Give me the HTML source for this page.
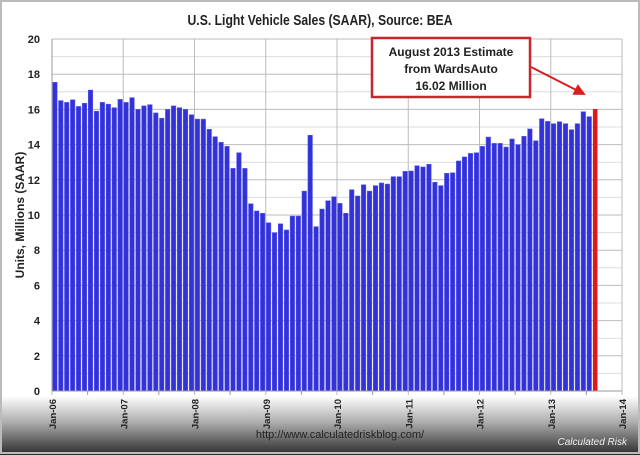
<!DOCTYPE html>
<html><head><meta charset="utf-8"><style>
html,body{margin:0;padding:0;background:#fff}
svg{display:block;font-family:"Liberation Sans",sans-serif}
</style></head><body>
<svg id="chart" width="640" height="455">
<defs>
<linearGradient id="bg" x1="0" y1="0" x2="0" y2="1">
<stop offset="0" stop-color="#fff"/><stop offset="0.87" stop-color="#fff"/><stop offset="0.93" stop-color="#aaa"/><stop offset="1" stop-color="#2a2a2a"/>
</linearGradient>
<marker id="ah" markerWidth="6" markerHeight="6" refX="5" refY="3" orient="auto"><path d="M0,0 L6,3 L0,6 z" fill="#d42020"/></marker>
</defs>
<rect x="0" y="0" width="640" height="455" fill="url(#bg)"/>
<rect x="1" y="1" width="638" height="452" fill="none" stroke="#bbb" stroke-width="2"/>
<text x="320" y="25" text-anchor="middle" font-size="15" font-weight="bold" fill="#222" textLength="265" lengthAdjust="spacingAndGlyphs">U.S. Light Vehicle Sales (SAAR), Source: BEA</text>
<g id="grid"></g>
<g id="bars"></g>
<g id="axes"></g>
<text transform="translate(24,215) rotate(-90)" text-anchor="middle" font-size="12" font-weight="bold" fill="#222">Units, Millions (SAAR)</text>
<text x="340" y="438" text-anchor="middle" font-size="11" fill="#222">http://www.calculatedriskblog.com/</text>
<text x="627" y="445" text-anchor="end" font-size="10" font-style="italic" fill="#eee">Calculated Risk</text>
<g>
<rect x="372" y="38" width="158" height="59" fill="#fff" stroke="#c8262a" stroke-width="2.5"/>
<text x="451" y="56" text-anchor="middle" font-size="12" font-weight="bold" fill="#222">August  2013 Estimate</text>
<text x="451" y="73" text-anchor="middle" font-size="12" font-weight="bold" fill="#222">from WardsAuto</text>
<text x="451" y="90" text-anchor="middle" font-size="12" font-weight="bold" fill="#222">16.02 Million</text>
<line x1="531" y1="67" x2="584" y2="94" stroke="#d42020" stroke-width="2" marker-end="url(#ah)"/>
</g>
</svg>
<script>
const values = [
17.54,16.5,16.4,16.55,16.17,16.35,17.1,15.9,16.4,16.3,16.1,16.57,
16.4,16.67,16.0,16.2,16.27,15.8,15.5,16.0,16.2,16.1,16.0,15.7,
15.45,15.45,14.87,14.45,14.13,13.9,12.65,13.54,12.65,10.64,10.23,10.1,
9.56,9.0,9.5,9.15,9.94,9.94,11.36,14.53,9.34,10.34,10.81,11.04,
10.66,10.1,11.44,11.08,11.72,11.36,11.67,11.82,11.76,12.18,12.18,12.48,
12.5,12.8,12.73,12.88,11.86,11.67,12.37,12.4,13.07,13.3,13.5,13.54,
13.9,14.43,14.07,14.07,13.86,14.32,14.0,14.47,14.89,14.22,15.47,15.32,
15.19,15.3,15.19,14.85,15.19,15.87,15.59
];
const estimate = [16.02];
const yTicks = [0,2,4,6,8,10,12,14,16,18,20];
const xTickLabels = ["Jan-06","Jan-07","Jan-08","Jan-09","Jan-10","Jan-11","Jan-12","Jan-13","Jan-14"];

const NS="http://www.w3.org/2000/svg";
const X0=52,X1=622,Y0=391,Y1=39,YMAX=20,MONTHS=96;
const xs=m=>X0+(X1-X0)*m/MONTHS;
const ys=v=>Y0-(Y0-Y1)*v/YMAX;
function mk(t,a,p){const e=document.createElementNS(NS,t);for(const k in a)e.setAttribute(k,a[k]);p.appendChild(e);return e;}
const grid=document.getElementById('grid'),bars=document.getElementById('bars'),axes=document.getElementById('axes');
for(let v=0;v<=YMAX;v++){
  const l=mk('line',{x1:X0,x2:X1,y1:ys(v),y2:ys(v),stroke:v%2?'#ddd':'#bbb','stroke-width':1},grid);
  
  
}
xTickLabels.forEach((lab,i)=>{
  const x=xs(i*12);
  const l=mk('line',{x1:x,x2:x,y1:Y1,y2:Y0+4,stroke:'#bbb','stroke-width':1},grid);
  
  
  const t=mk('text',{transform:`translate(${x+4},${Y0+8}) rotate(-90)`,'text-anchor':'end','font-size':9.5,'font-weight':'bold',fill:'#222'},axes);
  t.textContent=lab;
  
  
  if(i<8){const m=mk('line',{x1:xs(i*12+6),x2:xs(i*12+6),y1:Y0,y2:Y0+4,stroke:'#999'},axes);
  
  }
});
yTicks.forEach(v=>{
  const t=mk('text',{x:X0-12,y:ys(v)+4,'text-anchor':'end','font-size':11,'font-weight':'bold',fill:'#222'},axes);
  t.textContent=v;
  
  
});
const slot=(X1-X0)/MONTHS;
values.forEach((v,i)=>{
  const r=mk('rect',{x:xs(i)+0.6,y:ys(v),width:slot-1.4,height:Y0-ys(v),fill:'#3232d8',stroke:'#5858f0','stroke-width':0.5},bars);
  
  
});
estimate.forEach((v,j)=>{
  const i=values.length+j;
  const r=mk('rect',{x:xs(i)+0.6,y:ys(v),width:slot-1.4,height:Y0-ys(v),fill:'#e01818'},bars);
  
  
});
const ax=mk('line',{x1:X0,x2:X1,y1:Y0,y2:Y0,stroke:'#999'},axes);


const ay=mk('line',{x1:X0,x2:X0,y1:Y1,y2:Y0,stroke:'#999'},axes);


</script>
</body></html>
